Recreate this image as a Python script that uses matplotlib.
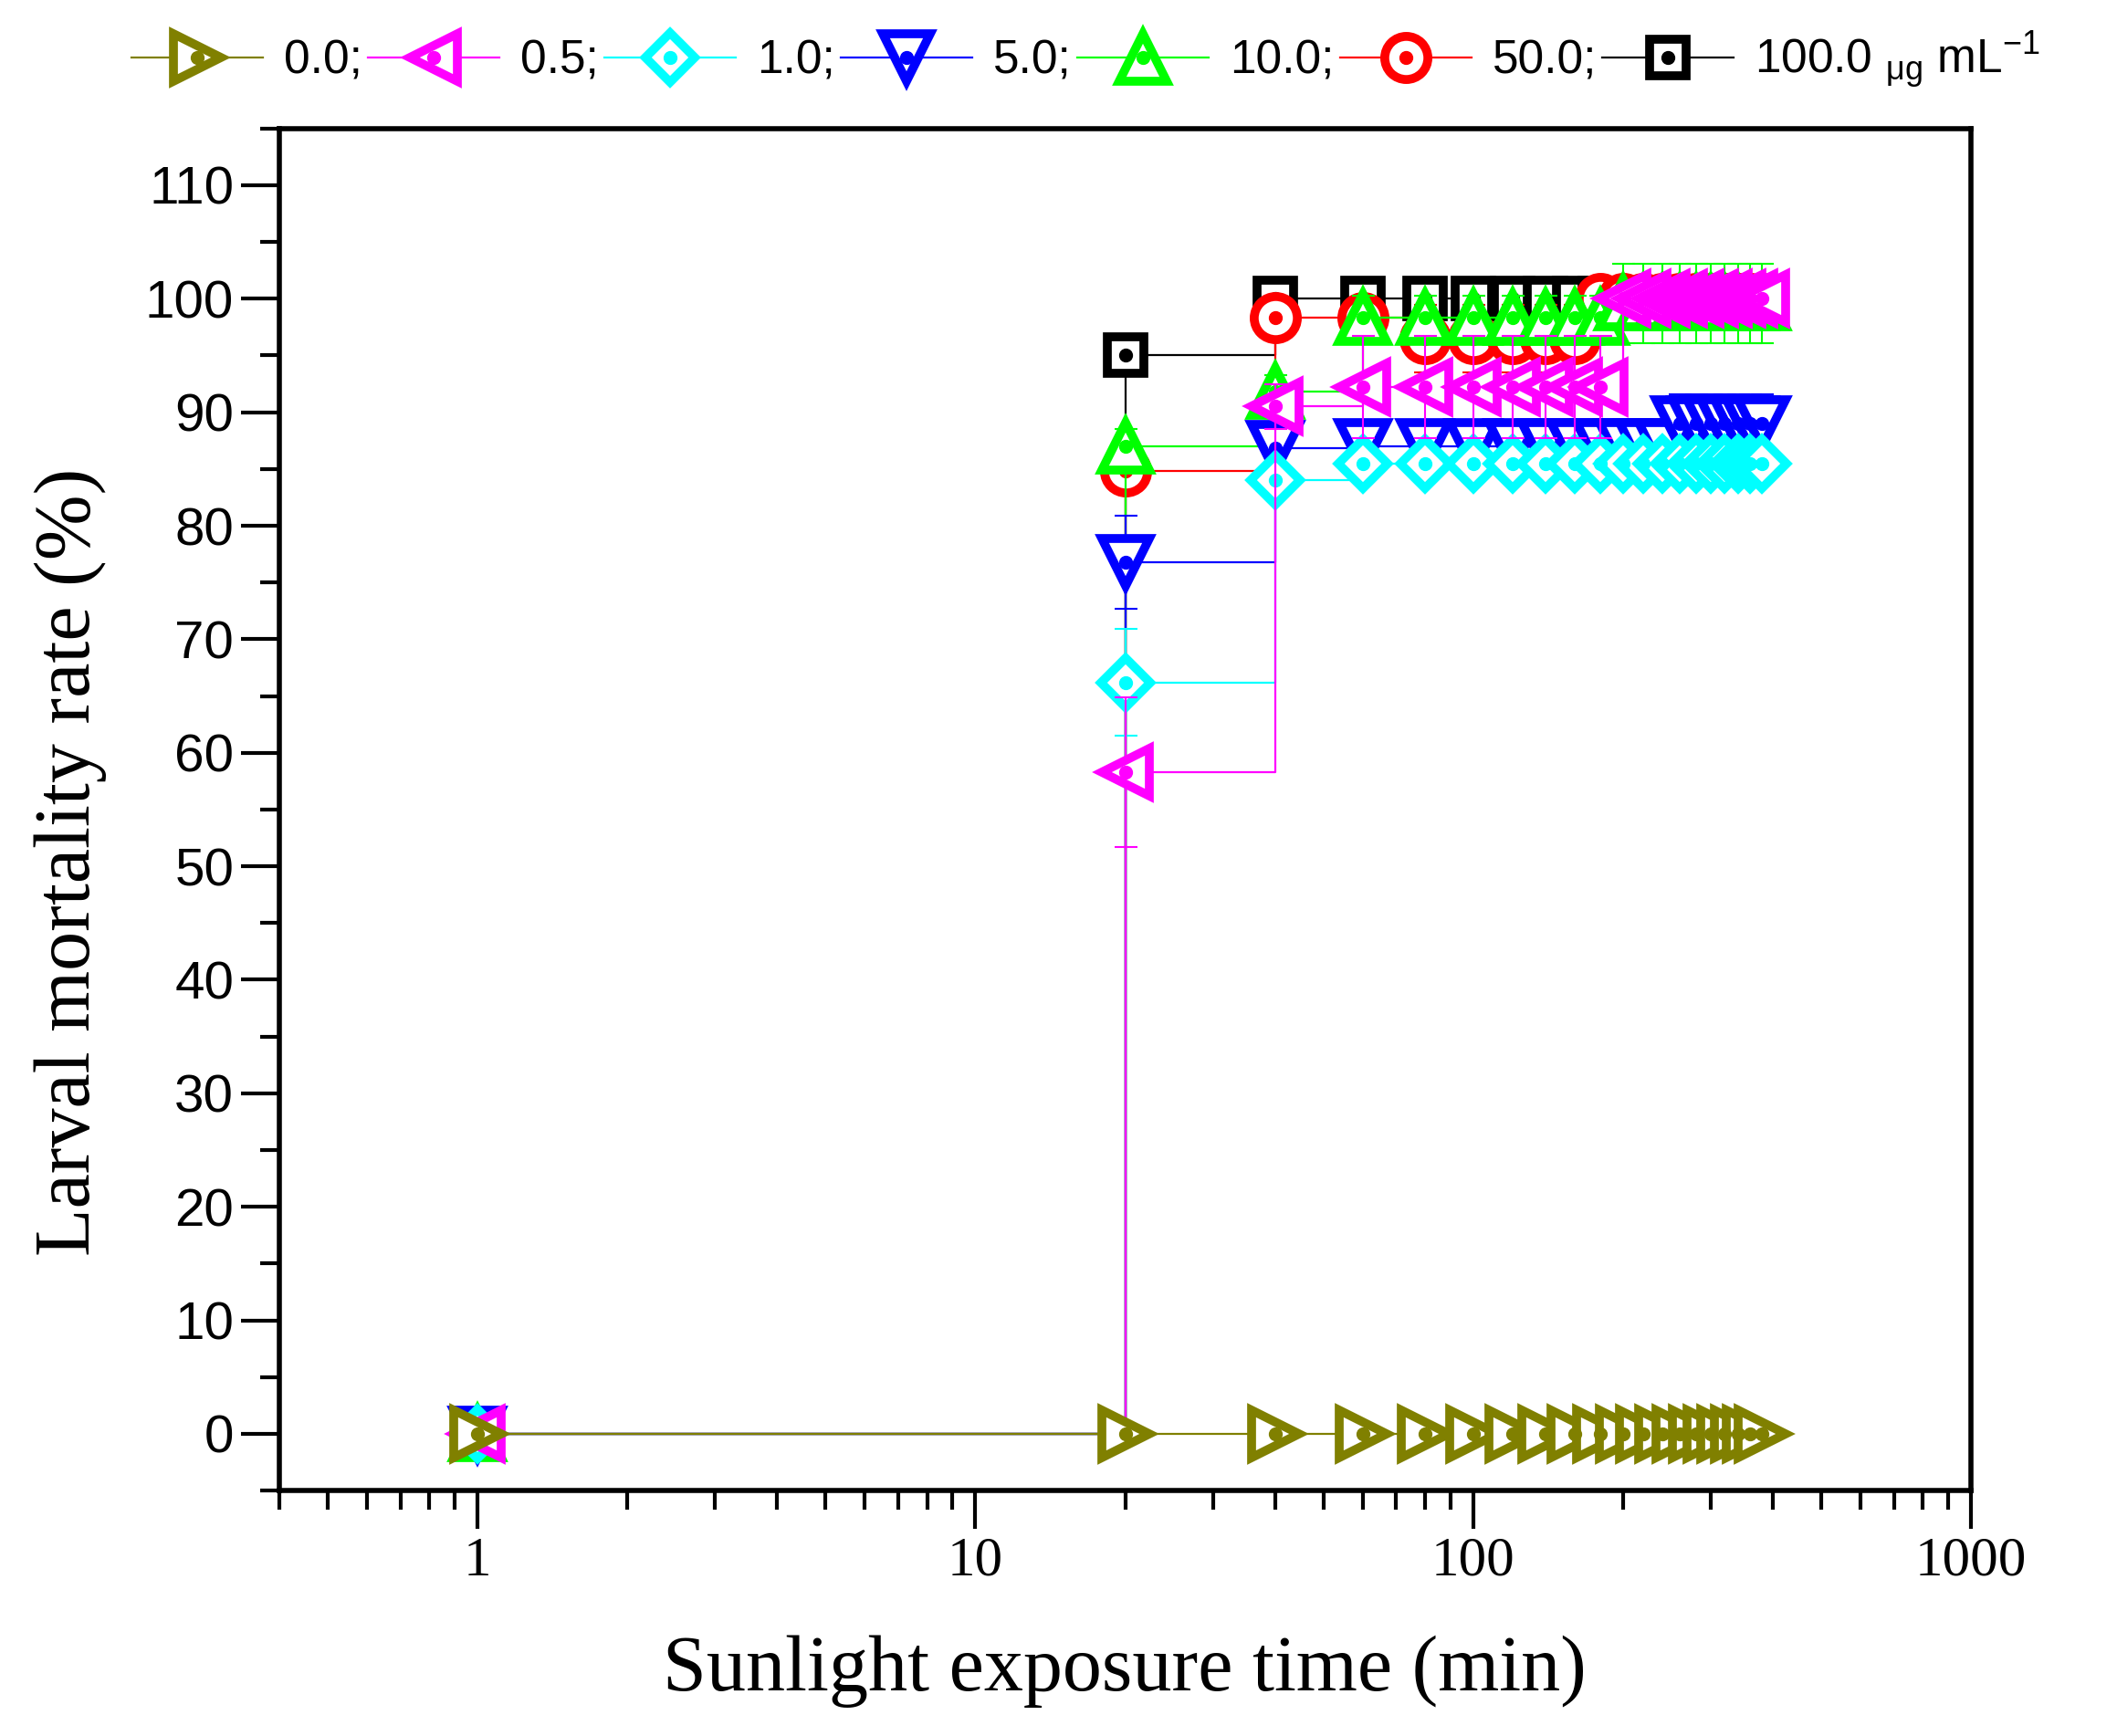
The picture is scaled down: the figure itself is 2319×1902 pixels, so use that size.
import matplotlib
matplotlib.use("Agg")
import matplotlib.pyplot as plt
from matplotlib.lines import Line2D
from matplotlib.legend_handler import HandlerTuple
from matplotlib.ticker import FixedLocator, LogLocator, MultipleLocator, NullFormatter

plt.rcParams['mathtext.fontset'] = 'custom'
plt.rcParams['mathtext.rm'] = 'Liberation Sans'
plt.rcParams['mathtext.it'] = 'Liberation Sans:italic'

# exposure times (min)
time_min = [1, 20, 40, 60, 80, 100, 120, 140, 160, 180,
            200, 220, 240, 260, 280, 300, 320, 340, 360, 380]

# larval mortality (%) per concentration
mort_0_0 = [0, 0, 0, 0, 0, 0, 0, 0, 0, 0,
            0, 0, 0, 0, 0, 0, 0, 0, 0, 0]
mort_0_5 = [0, 58.3, 90.5, 92.2, 92.2, 92.2, 92.2, 92.2, 92.2, 92.2,
            100, 100, 100, 100, 100, 100, 100, 100, 100, 100]
mort_1_0 = [0, 66.2, 84.0, 85.5, 85.5, 85.5, 85.5, 85.5, 85.5, 85.5,
            85.5, 85.5, 85.5, 85.5, 85.5, 85.5, 85.5, 85.5, 85.5, 85.5]
mort_5_0 = [0, 76.8, 86.8, 87.0, 87.0, 87.0, 87.0, 87.0, 87.0, 87.0,
            87.0, 87.0, 87.0, 89.0, 89.0, 89.0, 89.0, 89.0, 89.0, 89.0]
mort_10_0 = [0, 87.0, 91.8, 98.3, 98.3, 98.3, 98.3, 98.3, 98.3, 98.3,
             99.6, 99.6, 99.6, 99.6, 99.6, 99.6, 99.6, 99.6, 99.6, 99.6]
mort_50_0 = [0, 84.8, 98.3, 98.3, 96.5, 96.5, 96.5, 96.5, 96.5, 100,
             100, 100, 100, 100, 100, 100, 100, 100, 100, 100]
mort_100_0 = [0, 95.0, 100, 100, 100, 100, 100, 100, 100, 100,
              100, 100, 100, 100, 100, 100, 100, 100, 100, 100]

# standard deviations
sd_0_0 = [0, 0, 0, 0, 0, 0, 0, 0, 0, 0,
          0, 0, 0, 0, 0, 0, 0, 0, 0, 0]
sd_0_5 = [0, 6.6, 2.0, 4.5, 4.5, 4.5, 4.5, 4.5, 4.5, 4.5,
          0.5, 0.5, 0.5, 0.5, 0.5, 0.5, 0.5, 0.5, 0.5, 0.5]
sd_1_0 = [0, 4.7, 1.5, 1.0, 1.0, 1.0, 1.0, 1.0, 1.0, 1.0,
          1.0, 1.0, 1.0, 1.0, 1.0, 1.0, 1.0, 1.0, 1.0, 1.0]
sd_5_0 = [0, 4.1, 1.5, 1.0, 1.0, 1.0, 1.0, 1.0, 1.0, 1.0,
          1.0, 1.0, 1.0, 2.6, 2.6, 2.6, 2.6, 2.6, 2.6, 2.6]
sd_10_0 = [0, 1.5, 1.5, 2.0, 2.0, 2.0, 2.0, 2.0, 2.0, 2.0,
           3.5, 3.5, 3.5, 3.5, 3.5, 3.5, 3.5, 3.5, 3.5, 3.5]
sd_50_0 = [0, 1.5, 1.5, 1.5, 3.0, 3.0, 3.0, 3.0, 3.0, 0,
           0, 0, 0, 0, 0, 0, 0, 0, 0, 0]
sd_100_0 = [0, 1.0, 0, 0, 0, 0, 0, 0, 0, 0,
            0, 0, 0, 0, 0, 0, 0, 0, 0, 0]

labels = ['0.0;', '0.5;', '1.0;', '5.0;', '10.0;', '50.0;',
          '100.0 $\\mathregular{_{\\mu g}}$ mL$^{-1}$']
series = [mort_0_0, mort_0_5, mort_1_0, mort_5_0, mort_10_0, mort_50_0, mort_100_0]
errors = [sd_0_0, sd_0_5, sd_1_0, sd_5_0, sd_10_0, sd_50_0, sd_100_0]
colors = ['#808000', '#FF00FF', '#00FFFF', '#0000FF', '#00FF00', '#FF0000', '#000000']
markers = ['>', '<', 'D', 'v', '^', 'o', 's']
msizes = [38, 38, 27, 38, 38, 34, 29]

fig = plt.figure(figsize=(23.19, 19.02), dpi=100)
ax = fig.add_axes([0.132, 0.1414, 0.799, 0.7846])

handles = []
n = len(series)
for k in range(n):
    # draw highest concentration first so 0.0 ends on top
    i = n - 1 - k
    c = colors[i]
    z = 3 + k
    ex = [t for t, e in zip(time_min, errors[i]) if e > 0]
    ey = [v for v, e in zip(series[i], errors[i]) if e > 0]
    ee = [e for e in errors[i] if e > 0]
    ax.errorbar(ex, ey, yerr=ee, fmt='none', ecolor=c, elinewidth=1.5,
                capsize=9, capthick=1.5, zorder=z)
    ax.plot(time_min, series[i], drawstyle='steps-post', color=c, lw=1.6, zorder=z + 0.1)
    ax.plot(time_min, series[i], ls='none', marker=markers[i], ms=msizes[i],
            mfc='white', mec=c, mew=7, zorder=z + 0.2)
    ax.plot(time_min, series[i], ls='none', marker='o', ms=10, color=c, zorder=z + 0.3)

for i in range(n):
    h1 = Line2D([], [], color=colors[i], lw=1.6, marker=markers[i], ms=msizes[i],
                mfc='white', mec=colors[i], mew=7)
    h2 = Line2D([], [], ls='none', marker='o', ms=10, color=colors[i])
    handles.append((h1, h2))

fig.legend(handles, labels, handler_map={tuple: HandlerTuple(ndivide=1)},
           loc='center', bbox_to_anchor=(0.513, 0.965), ncol=7, frameon=False,
           prop={'family': 'Liberation Sans', 'size': 37},
           handlelength=2.8, handletextpad=0.45, columnspacing=0.12, borderpad=0)

ax.set_xscale('log')
ax.set_xlim(0.4, 1000)
ax.set_ylim(-5, 115)
ax.xaxis.set_major_locator(FixedLocator([1, 10, 100, 1000]))
ax.xaxis.set_minor_locator(LogLocator(base=10, subs=range(2, 10)))
ax.xaxis.set_minor_formatter(NullFormatter())
ax.set_xticklabels(['1', '10', '100', '1000'], family='Liberation Serif', fontsize=44)
ax.yaxis.set_major_locator(MultipleLocator(10))
ax.yaxis.set_minor_locator(MultipleLocator(5))
ax.set_yticks(range(0, 111, 10))
ax.set_yticklabels([str(v) for v in range(0, 111, 10)], family='Liberation Sans', fontsize=42)

ax.tick_params(axis='both', which='major', direction='out', length=30, width=3, pad=6,
               top=False, right=False)
ax.tick_params(axis='both', which='minor', direction='out', length=15, width=3,
               top=False, right=False)
for sp in ax.spines.values():
    sp.set_linewidth(4)

fig.text(0.0332, 0.5037, 'Larval mortality rate (%)', rotation=90, ha='center', va='center',
         family='Liberation Serif', fontsize=62)
fig.text(0.531, 0.0373, 'Sunlight exposure time (min)', ha='center', va='center',
         family='Liberation Serif', fontsize=62)

fig.savefig('out.png', dpi=100, facecolor='white')
